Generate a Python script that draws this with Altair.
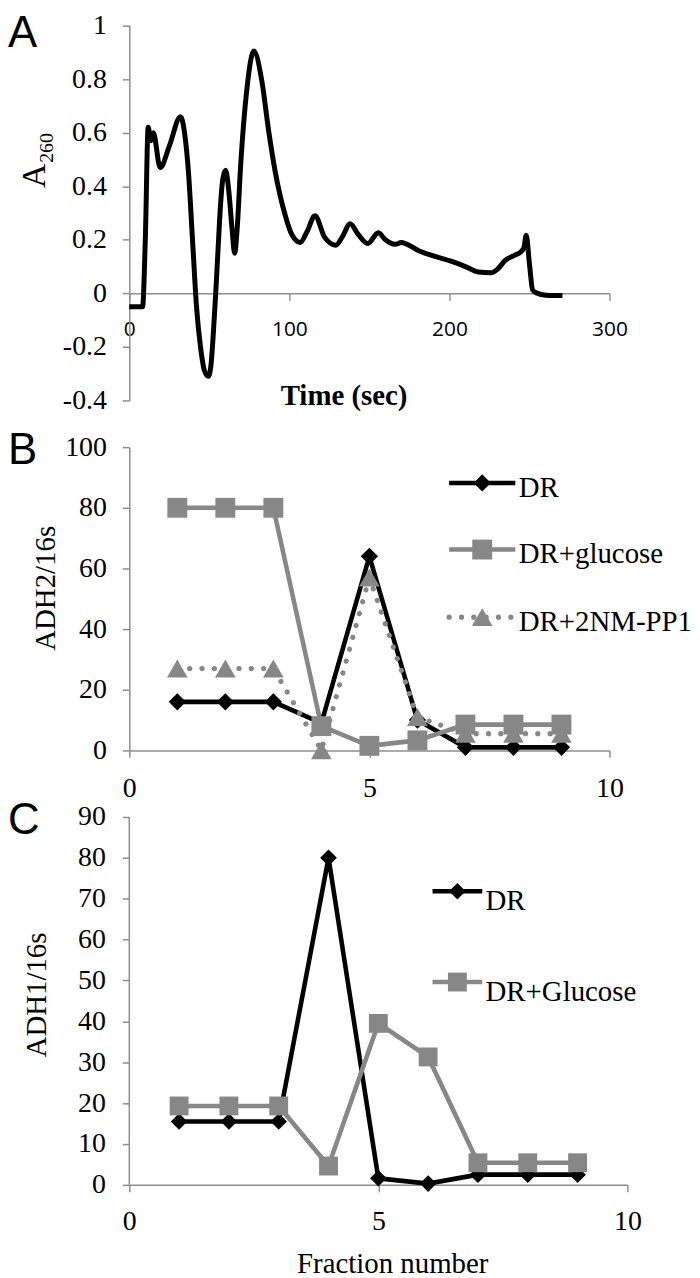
import altair as alt
import pandas as pd

# ---------------- data ----------------
# Panel A: absorbance trace
time_s = [0, 8.3, 10, 11.8, 13.5, 15, 19.3, 25, 32, 34.5, 37, 39.5, 42, 44.5, 47, 49.4, 51, 52.5, 54,
          55.5, 57, 58.5, 60.2, 62.2, 64.2, 65.8, 67.5, 69.4, 73.6, 77.8, 82.9, 87, 91, 97.5, 101.5,
          106.8, 111, 116, 122, 129, 133, 138, 143, 149, 155.6, 160, 166, 170, 173, 180.5, 190, 201,
          210, 218, 226, 230, 235, 240.6, 244.6, 246.5, 248, 250, 252, 255, 259, 265, 270.6]
a260 = [-0.05, -0.05, 0.2, 0.62, 0.57, 0.60, 0.47, 0.55, 0.66, 0.6, 0.45, 0.2, -0.05, -0.2, -0.29, -0.31, -0.27, -0.15, 0.0,
        0.17, 0.33, 0.43, 0.46, 0.38, 0.24, 0.15, 0.25, 0.46, 0.77, 0.905, 0.79, 0.61, 0.46, 0.29, 0.22,
        0.19, 0.23, 0.29, 0.21, 0.18, 0.21, 0.26, 0.22, 0.186, 0.226, 0.2, 0.183, 0.19, 0.185, 0.16, 0.14, 0.12,
        0.10, 0.08, 0.077, 0.09, 0.124, 0.142, 0.155, 0.17, 0.217, 0.11, 0.012, 0.0, -0.006, -0.008, -0.008]

# Panels B and C: fractions
fraction = [1, 2, 3, 4, 5, 6, 7, 8, 9]
b_names = ["DR", "DR+glucose", "DR+2NM-PP1"]
b_dr = [16, 16, 16, 9, 64, 10, 1, 1, 1]
b_glucose = [80, 80, 80, 8, 1.5, 3.3, 8.5, 8.5, 8.5]
b_pp1 = [27, 27, 27, 0, 57, 11, 5.5, 5.5, 5.5]

c_names = ["DR", "DR+Glucose"]
c_dr = [15.5, 15.5, 15.5, 80, 1.6, 0.3, 2.5, 2.5, 2.5]
c_glucose = [19.3, 19.3, 19.3, 4.6, 39.5, 31.3, 5.4, 5.4, 5.4]

a_yticks = [-0.4, -0.2, 0, 0.2, 0.4, 0.6, 0.8, 1]
a_xticks = [0, 100, 200, 300]
b_yticks = [0, 20, 40, 60, 80, 100]
c_yticks = [0, 10, 20, 30, 40, 50, 60, 70, 80, 90]
frac_ticks = [0, 5, 10]

# ---------------- style ----------------
SERIF = "Liberation Serif"
SANS = "Open Sans"
LETTER = "Liberation Sans"
GRAY = "#878787"
AXC = "#8e8e8e"
BLACK = "#000000"
DOTS = [0.1, 12.3]
LW = 4.6


def axis(values, label_font=SERIF, label_size=28, pad=16, **kw):
    return alt.Axis(values=values, title=None, grid=False, domainColor=AXC, domainWidth=1.5,
                    tickColor=AXC, tickWidth=1.5, tickSize=7, labelFont=label_font,
                    labelFontSize=label_size, labelColor="black", labelPadding=pad,
                    labelFlush=False, labelOverlap=False, **kw)


def txt(s, x, y, size, font=SERIF, angle=0, align="left", baseline="alphabetic", weight="normal"):
    return alt.Chart(pd.DataFrame({"s": [s]})).mark_text(
        font=font, fontSize=size, angle=angle, align=align, baseline=baseline,
        fontWeight=weight, color="black"
    ).encode(text="s:N", x=alt.value(x), y=alt.value(y))


def series(xs, ys, X, Y, color, shape, size, dash=None):
    df = pd.DataFrame({"x": xs, "y": ys})
    lkw = dict(color=color, strokeWidth=LW)
    if dash:
        lkw.update(strokeDash=dash, strokeCap="round", strokeWidth=5.2)
    line = alt.Chart(df).mark_line(**lkw).encode(x=X, y=Y)
    pts = alt.Chart(df).mark_point(filled=True, shape=shape, size=size, color=color,
                                   opacity=1).encode(x=X, y=Y)
    return [line, pts]


def legend_row(name, y, x1, x2, xt, color, shape, size, dash=None, ty=5):
    one = pd.DataFrame({"s": [name]})
    rkw = dict(color=color, strokeWidth=LW)
    if dash:
        rkw.update(strokeDash=dash, strokeCap="round", strokeWidth=5.2)
    rule = alt.Chart(one).mark_rule(**rkw).encode(
        x=alt.value(x1), x2=alt.value(x2), y=alt.value(y))
    pt = alt.Chart(one).mark_point(filled=True, shape=shape, size=size, color=color,
                                   opacity=1).encode(x=alt.value((x1 + x2) / 2), y=alt.value(y))
    label = txt(name, xt, y + ty, 29, baseline="middle")
    return [rule, pt, label]


# ---------------- panel A ----------------
WA, HA = 483, 377
dfA = pd.DataFrame({"t": time_s, "a": a260})
XA = alt.X("t:Q", scale=alt.Scale(domain=[0, 300], nice=False, zero=False),
           axis=axis(a_xticks, label_font=SANS, label_size=21, pad=18,
                     offset=-HA * 0.4 / 1.4))
YA = alt.Y("a:Q", scale=alt.Scale(domain=[-0.4, 1], nice=False, zero=False),
           axis=axis(a_yticks, labelExpr="'' + round(datum.value * 10) / 10"))
lineA = alt.Chart(dfA).mark_line(color=BLACK, strokeWidth=5, interpolate="monotone").encode(x=XA, y=YA)
panelA = alt.layer(
    lineA,
    txt("A", -122, 21, 44, font=LETTER),
    txt("A", -85, 151, 34, angle=270, align="center"),
    txt("260", -77, 123, 20, angle=270, align="center"),
    txt("Time (sec)", 216, 382, 29, weight="bold", align="center"),
).properties(width=WA, height=HA)

# ---------------- panel B ----------------
WB, HB = 483, 305
XB = alt.X("x:Q", scale=alt.Scale(domain=[0, 10], nice=False, zero=False),
           axis=axis(frac_ticks, pad=17))
YB = alt.Y("y:Q", scale=alt.Scale(domain=[0, 100], nice=False), axis=axis(b_yticks))
b_styles = [(b_dr, BLACK, "diamond", 300, None),
            (b_glucose, GRAY, "square", 400, None),
            (b_pp1, GRAY, "triangle-up", 430, DOTS)]
b_layers = []
for vals, col, shp, sz, dsh in b_styles:
    b_layers += series(fraction, vals, XB, YB, col, shp, sz, dsh)
b_rows = [36, 103, 171]
for (vals, col, shp, sz, dsh), name, ry in zip(b_styles, b_names, b_rows):
    b_layers += legend_row(name, ry, 321.7, 388.3, 391.7, col, shp, sz, dsh, ty=5)
b_layers += [txt("B", -122, 17, 44, font=LETTER),
             txt("ADH2/16s", -84, 142, 29, angle=270, align="center", baseline="middle")]
panelB = alt.layer(*b_layers).properties(width=WB, height=HB)

# ---------------- panel C ----------------
WC, HC = 501, 390
c_top = 90 * HC / 370
XC = alt.X("x:Q", scale=alt.Scale(domain=[0, 10], nice=False, zero=False),
           axis=axis(frac_ticks, pad=16))
YC = alt.Y("y:Q", scale=alt.Scale(domain=[0, c_top], nice=False),
           axis=axis(c_yticks, pad=17, domain=False))
c_axis_line = alt.Chart(pd.DataFrame({"y0": [0], "y1": [90]})).mark_rule(
    color=AXC, strokeWidth=1.5).encode(x=alt.value(0), y=alt.Y("y0:Q"), y2="y1:Q")
c_styles = [(c_dr, BLACK, "diamond", 280, None),
            (c_glucose, GRAY, "square", 360, None)]
c_layers = [c_axis_line]
for vals, col, shp, sz, dsh in c_styles:
    c_layers += series(fraction, vals, XC, YC, col, shp, sz, dsh)
c_rows = [94.7, 186]
for (vals, col, shp, sz, dsh), name, ry in zip(c_styles, c_names, c_rows):
    c_layers += legend_row(name, ry, 305, 355, 358.3, col, shp, sz, dsh, ty=10)
c_layers += [txt("C", -122, 37, 44, font=LETTER),
             txt("ADH1/16s", -93, 199, 29, angle=270, align="center", baseline="middle"),
             txt("Fraction number", 265, 479, 29, align="center")]
panelC = alt.layer(*c_layers).properties(width=WC, height=HC)

chart = alt.vconcat(panelA, panelB, panelC, spacing=47, bounds="flush").properties(
    padding={"top": 0, "left": 0, "right": 0, "bottom": 0}
).configure_view(stroke=None)

chart.save("out.html", embed_options={"renderer": "svg", "actions": False})
